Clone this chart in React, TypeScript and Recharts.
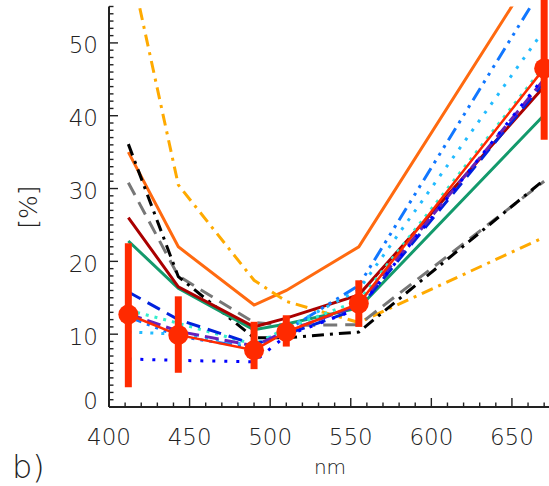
import React from 'react';
import { LineChart, Line, XAxis, YAxis, ErrorBar } from 'recharts';

// wavelengths of the bands (nm)
const bands = [412, 443, 490, 510, 555, 670];

// measured values with lower / upper error
const measured = [12.7, 9.9, 7.8, 10.3, 14.2, 46.5];
const measuredErr: [number, number][] = [
  [10.0, 9.8],
  [5.2, 5.3],
  [2.6, 3.9],
  [2.0, 2.3],
  [3.2, 3.2],
  [9.8, 9.8],
];

// model curves
const orangeSolid = [35.0, 22.0, 14.0, 16.0, 22.0, 62.0];
const amberDashDot = [62.0, 30.5, 17.4, 14.5, 11.6, 23.3];
const blackDashDot = [36.1, 17.9, 9.5, 9.5, 10.3, 31.2];
const grayDash = [30.8, 18.0, 11.6, 11.2, 11.3, 31.0];
const darkRed = [26.0, 16.5, 11.0, 12.2, 15.4, 44.0];
const green = [22.8, 16.3, 10.6, 11.4, 13.6, 40.1];
const blueDash = [15.8, 12.0, 8.6, 10.0, 13.5, 44.6];
const azureDashDots = [12.4, 9.7, 8.1, 10.5, 16.7, 58.0];
const skyDotted = [10.3, 10.0, 8.4, 10.8, 16.1, 51.8];
const turquoiseDotted = [13.3, 11.5, 8.6, 10.8, 14.6, 46.8];
const blueDotted = [6.6, 6.4, 6.2, 9.8, 13.5, 45.3];
const purpleDash = [12.8, 10.4, 8.4, 10.4, 14.0, 45.0];

const xTicks = Array.from({ length: 28 }, (_, i) => 400 + i * 10);
const yTicks = Array.from({ length: 56 }, (_, i) => i);

const data = bands.map((nm, i) => ({
  nm,
  measured: measured[i],
  err: measuredErr[i],
  orangeSolid: orangeSolid[i],
  amberDashDot: amberDashDot[i],
  blackDashDot: blackDashDot[i],
  grayDash: grayDash[i],
  darkRed: darkRed[i],
  green: green[i],
  blueDash: blueDash[i],
  azureDashDots: azureDashDots[i],
  skyDotted: skyDotted[i],
  turquoiseDotted: turquoiseDotted[i],
  blueDotted: blueDotted[i],
  purpleDash: purpleDash[i],
}));

const models = [
  { key: 'orangeSolid', color: '#ff6a10', dash: undefined },
  { key: 'amberDashDot', color: '#ffaa00', dash: '12 6 3 6' },
  { key: 'grayDash', color: '#777777', dash: '14 8' },
  { key: 'blackDashDot', color: '#000000', dash: '12 6 3 6' },
  { key: 'green', color: '#139a6c', dash: undefined },
  { key: 'darkRed', color: '#aa0000', dash: undefined },
  { key: 'azureDashDots', color: '#1177ff', dash: '14 6 3 6 3 6 3 6' },
  { key: 'skyDotted', color: '#22bbff', dash: '3 8' },
  { key: 'turquoiseDotted', color: '#33eecc', dash: '3 6' },
  { key: 'blueDash', color: '#0022dd', dash: '14 8' },
  { key: 'purpleDash', color: '#6622bb', dash: '14 6' },
  { key: 'blueDotted', color: '#0000ff', dash: '3 9' },
];

const FONT = '"DejaVu Sans", sans-serif';
const INK = '#222';
const RED = '#ff2a00';

const BottomTick = (props: any) => {
  const { x, y, payload } = props;
  const major = payload.value % 50 === 0;
  return (
    <g>
      <line x1={x} x2={x} y1={y} y2={y - (major ? 9 : 4.5)} stroke={INK} strokeWidth={1.4} />
      {major && (
        <text x={x} y={y + 38} textAnchor="middle" fontFamily={FONT} fontWeight={200} fontSize={23} fill={INK}>
          {payload.value}
        </text>
      )}
    </g>
  );
};

const TopTick = (props: any) => {
  const { x, y, payload } = props;
  const major = payload.value % 50 === 0;
  return <line x1={x} x2={x} y1={y} y2={y + (major ? 9 : 4.5)} stroke={INK} strokeWidth={1.4} />;
};

const LeftTick = (props: any) => {
  const { x, y, payload } = props;
  const major = payload.value % 10 === 0;
  // the zero label sits a little above the corner
  const dy = payload.value === 0 ? 2 : 10.5;
  return (
    <g>
      <line x1={x} x2={x + (major ? 9 : 4.5)} y1={y} y2={y} stroke={INK} strokeWidth={1.4} />
      {major && (
        <text x={x - 11} y={y + dy} textAnchor="end" fontFamily={FONT} fontWeight={200} fontSize={23} fill={INK}>
          {payload.value}
        </text>
      )}
    </g>
  );
};

export default function App() {
  return (
    <div style={{ position: 'absolute', left: 0, top: 0, width: 549, height: 486, background: '#fff' }}>
      <LineChart width={549} height={486} data={data} margin={{ top: 6.5, right: 0, bottom: 0, left: 0 }}>
        <XAxis
          dataKey="nm"
          type="number"
          domain={[400, 673]}
          ticks={xTicks}
          interval={0}
          height={79}
          tickSize={0}
          tickMargin={0}
          tickLine={false}
          axisLine={{ stroke: INK, strokeWidth: 2 }}
          tick={(p: any) => <BottomTick {...p} />}
        />
        <XAxis
          xAxisId="top"
          dataKey="nm"
          type="number"
          orientation="top"
          domain={[400, 673]}
          ticks={xTicks}
          interval={0}
          height={0}
          tickSize={0}
          tickMargin={0}
          tickLine={false}
          axisLine={{ stroke: INK, strokeWidth: 2 }}
          tick={(p: any) => <TopTick {...p} />}
        />
        <YAxis
          type="number"
          domain={[0, 55]}
          allowDataOverflow
          ticks={yTicks}
          interval={0}
          width={109}
          tickSize={0}
          tickMargin={0}
          tickLine={false}
          axisLine={{ stroke: INK, strokeWidth: 2 }}
          tick={(p: any) => <LeftTick {...p} />}
        />
        {models.map((m) => (
          <Line
            key={m.key}
            dataKey={m.key}
            type="linear"
            stroke={m.color}
            strokeWidth={3}
            strokeDasharray={m.dash}
            dot={false}
            activeDot={false}
            isAnimationActive={false}
          />
        ))}
        <Line
          dataKey="measured"
          type="linear"
          stroke={RED}
          strokeWidth={2.5}
          dot={{ r: 10, fill: RED, stroke: 'none' }}
          activeDot={false}
          isAnimationActive={false}
        >
          <ErrorBar dataKey="err" width={0} stroke={RED} strokeWidth={7} direction="y" />
        </Line>
      </LineChart>
      <svg width={549} height={486} style={{ position: 'absolute', left: 0, top: 0, pointerEvents: 'none' }}>
        <text
          x={37}
          y={207}
          transform="rotate(-90 37 207)"
          textAnchor="middle"
          fontFamily={FONT}
          fontWeight={200}
          fontSize={25}
          fill={INK}
        >
          [%]
        </text>
        <text x={330} y={474} textAnchor="middle" fontFamily={FONT} fontWeight={200} fontSize={20} fill={INK}>
          nm
        </text>
        <text x={12} y={478} fontFamily={FONT} fontWeight={200} fontSize={32} fill={INK}>
          b)
        </text>
      </svg>
    </div>
  );
}
